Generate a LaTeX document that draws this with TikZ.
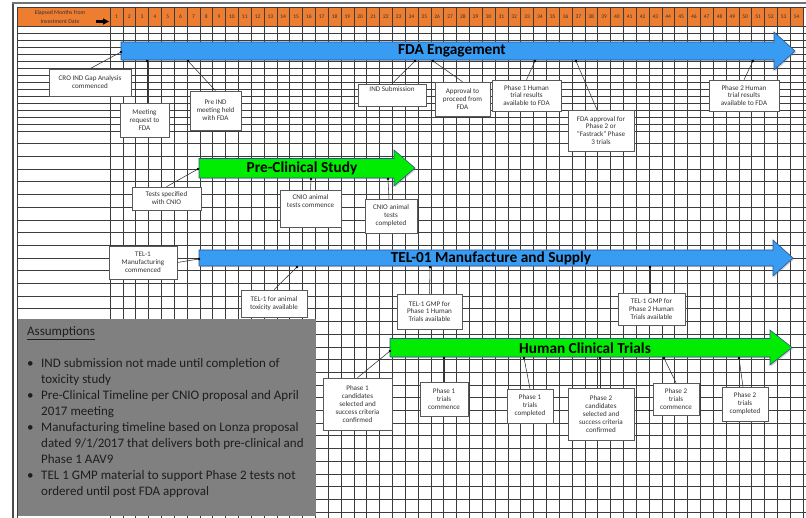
\documentclass[tikz,border=0pt]{standalone}
\usepackage{fontspec}
\setmainfont{Carlito}
\usetikzlibrary{shadows,calc}
\definecolor{hdr}{RGB}{237,125,49}
\definecolor{bluefill}{RGB}{55,156,242}
\definecolor{greenfill}{RGB}{0,236,0}
\definecolor{edgeblue}{RGB}{47,82,143}
\definecolor{gridc}{RGB}{60,60,60}
\definecolor{assumfill}{RGB}{128,128,128}
\definecolor{assumtext}{RGB}{30,30,30}
\tikzset{
  gridl/.style={draw=gridc, line width=0.6pt},
  hnum/.style={font=\fontsize{5.5}{6}\selectfont, text=black!80, inner sep=0pt},
  hlab/.style={font=\fontsize{5.8}{9}\selectfont, text=black!80, align=center, inner sep=0pt},
  barshape/.style={draw=edgeblue, line width=0.6pt, drop shadow={shadow xshift=1.2pt, shadow yshift=-1.2pt, opacity=0.35}},
  barlabel/.style={font=\fontsize{15.3}{17}\selectfont\bfseries, text=black, inner sep=0pt},
  callout/.style={draw=black!65, line width=0.6pt, fill=white, align=center, inner sep=1pt,
    font=\fontsize{7.1}{7.9}\selectfont, text=black!80,
    drop shadow={shadow xshift=1pt, shadow yshift=-1pt, opacity=0.3}},
  conn/.style={draw=black!80, line width=0.55pt},
}
\begin{document}
\begin{tikzpicture}[x=1pt, y=-1pt]
\useasboundingbox (0,0) rectangle (806,518);
\fill[white] (0,0) rectangle (806,518);

% header fill
\fill[hdr] (17,7) rectangle (803,26);

% grid
\foreach \i in {0,...,54} \draw[gridl] ({110+\i*12.833},7) -- ({110+\i*12.833},518);
\draw[gridl] (17,7) -- (17,518);
\draw[gridl] (17,7) -- (806,7);
\foreach \j in {0,...,15} \draw[gridl] (17,{26+7*\j}) -- (806,{26+7*\j});
\foreach \j in {1,...,30} \draw[gridl] (17,{131+12.7*\j}) -- (806,{131+12.7*\j});

% outer frame
\draw[black!70, line width=1.4pt] (13,2) -- (13,518);
\draw[black!55, line width=1.2pt] (12,3) -- (806,3);

% header text
\node[hlab] (hlabel) at (60,17) {Elapsed Months from\\Investment Date};
\foreach \i in {1,...,54} \node[hnum] (h\i) at ({110+(\i-0.5)*12.833},16.5) {\i};
\fill[black] (96,20.3) rectangle (104,22.7);
\fill[black] (103,18.3) -- (109,21.5) -- (103,24.7) -- cycle;

% block arrows
\path[barshape, fill=bluefill] (121,42) -- (774,42) -- (774,32) -- (795,51) -- (774,70) -- (774,60) -- (121,60) -- cycle;
\node[barlabel] (fda) at (452,51) {FDA Engagement};

\path[barshape, fill=greenfill] (199,158.5) -- (394,158.5) -- (394,150) -- (415,168) -- (394,186) -- (394,178) -- (199,178) -- cycle;
\node[barlabel] (pre) at (302,168) {Pre-Clinical Study};

\path[barshape, fill=bluefill] (199,250) -- (773,250) -- (773,240) -- (793,258) -- (773,276) -- (773,266) -- (199,266) -- cycle;
\node[barlabel] (tel) at (491,258) {TEL-01 Manufacture and Supply};

\path[barshape, fill=greenfill] (390,338.5) -- (770,338.5) -- (770,330) -- (792,347.5) -- (770,365) -- (770,357) -- (390,357) -- cycle;
\node[barlabel] (hct) at (585,348) {Human Clinical Trials};

% attachment points
\coordinate (d1) at (121,52);
\coordinate (d2) at (147,61);
\coordinate (d3) at (188,61);
\coordinate (d4) at (415,61);
\coordinate (d5) at (433,61);
\coordinate (d6) at (535,61);
\coordinate (d7) at (576,61);
\coordinate (d8) at (753,61);
\coordinate (d9) at (198,169);
\coordinate (d10) at (311,179);
\coordinate (d11) at (388,179);
\coordinate (d12) at (199,259);
\coordinate (d13) at (297,267);
\coordinate (d14) at (430,267);
\coordinate (d15) at (650,267);
\coordinate (d16) at (390,351);
\coordinate (d17) at (444,358);
\coordinate (d18) at (524,358);
\coordinate (d19) at (600,358);
\coordinate (d20) at (664,358);
\coordinate (d21) at (739,358);

% callout boxes
\node[callout, minimum width=82pt, minimum height=27pt] (cro) at (90,82.5) {CRO IND Gap Analysis\\commenced};
\node[callout, minimum width=49pt, minimum height=34pt] (meet) at (144.5,120) {Meeting\\request to\\FDA};
\node[callout, minimum width=51pt, minimum height=39pt] (preind) at (215.5,110.5) {Pre IND\\meeting held\\with FDA};
\node[callout, minimum width=68pt, minimum height=22pt] (indsub) at (392,95) {IND Submission\\[4pt]};
\node[callout, minimum width=55pt, minimum height=34pt] (approve) at (462.5,99) {Approval to\\proceed from\\FDA};
\node[callout, minimum width=69pt, minimum height=31pt] (p1res) at (526.5,95.5) {Phase 1 Human\\trial results\\available to FDA};
\node[callout, minimum width=66pt, minimum height=41pt] (fdaapp) at (601,130.5) {FDA approval for\\Phase 2 or\\“Fastrack” Phase\\3 trials};
\node[callout, minimum width=70pt, minimum height=31pt] (p2res) at (744,95.5) {Phase 2 Human\\trial results\\available to FDA};

\node[callout, minimum width=69pt, minimum height=23pt] (tests) at (166.5,198.5) {Tests specified\\with CNIO};
\node[callout, minimum width=61pt, minimum height=37pt] (cniostart) at (310.5,208.5) {CNIO animal\\tests commence\\~\\~};
\node[callout, minimum width=52pt, minimum height=34pt] (cnioend) at (391,216) {CNIO animal\\tests\\completed};

\node[callout, minimum width=68pt, minimum height=33pt] (telmfg) at (143,262.5) {TEL-1\\Manufacturing\\commenced};
\node[callout, minimum width=66pt, minimum height=27pt] (telanim) at (274,303.5) {TEL-1 for animal\\toxicity available};
\node[callout, minimum width=65pt, minimum height=35pt] (gmp1) at (429.5,311.5) {TEL-1 GMP for\\Phase 1 Human\\Trials available};
\node[callout, minimum width=67pt, minimum height=32pt] (gmp2) at (651.5,309) {TEL-1 GMP for\\Phase 2 Human\\Trials available};

\node[callout, minimum width=69pt, minimum height=52pt] (p1cand) at (357.5,404) {Phase 1\\candidates\\selected and\\success criteria\\confirmed};
\node[callout, minimum width=48pt, minimum height=34pt] (p1start) at (444,399) {Phase 1\\trials\\commence};
\node[callout, minimum width=46pt, minimum height=34pt] (p1done) at (530,406) {Phase 1\\trials\\completed};
\node[callout, minimum width=66pt, minimum height=52pt] (p2cand) at (601,414) {Phase 2\\candidates\\selected and\\success criteria\\confirmed};
\node[callout, minimum width=46pt, minimum height=32pt] (p2start) at (676,399) {Phase 2\\trials\\commence};
\node[callout, minimum width=46pt, minimum height=34pt] (p2done) at (745,404) {Phase 2\\trials\\completed};

% connectors
\draw[conn] (cro.north) -- (d1);
\draw[conn] (d2 |- meet.north) -- (d2);
\draw[conn] (preind.north) -- (d3);
\draw[conn] (indsub.north) -- (d4);
\draw[conn] (approve.north) -- (d5);
\draw[conn] (p1res.north) -- (d6);
\draw[conn] (fdaapp.north) ++(-4,0) -- (d7);
\draw[conn] (p2res.north) -- (d8);
\draw[conn] (tests.north) -- (d9);
\draw[conn] (cniostart.north) -- (d10);
\draw[conn] (cnioend.north) ++(-2,0) -- (d11);
\draw[conn] (telmfg.east) -- (d12);
\draw[conn] (telanim.north) -- (d13);
\draw[conn] (gmp1.north) -- (d14);
\draw[conn] (gmp2.north) ++(-1.5,0) -- (d15);
\draw[conn] (p1cand.north) -- (d16);
\draw[conn] (p1start.north) -- (d17);
\draw[conn] (p1done.north) -- (d18);
\draw[conn] (p2cand.north) ++(-1,0) -- (d19);
\draw[conn] (p2start.north) -- (d20);
\draw[conn] (p2done.north) ++(-2,0) -- (d21);
\foreach \d in {d1,d2,d3,d4,d5,d6,d7,d8,d9,d10,d11,d12,d13,d14,d15,d16,d17,d18,d19,d20,d21}
  \fill[black] (\d) circle (1.4);

% assumptions
\fill[assumfill] (18,319) rectangle (316,516);
\node[anchor=north west, inner sep=0pt, text=assumtext, font=\fontsize{13}{16}\selectfont] (assump) at (27,324) {%
\begin{tabular}{@{}p{14pt}@{}l@{}}
\multicolumn{2}{@{}l}{\underline{Assumptions}}\\
 & \\
\textbullet & IND submission not made until completion of\\
 & toxicity study\\
\textbullet & Pre-Clinical Timeline per CNIO proposal and April\\
 & 2017 meeting\\
\textbullet & Manufacturing timeline based on Lonza proposal\\
 & dated 9/1/2017 that delivers both pre-clinical and\\
 & Phase 1 AAV9\\
\textbullet & TEL 1 GMP material to support Phase 2 tests not\\
 & ordered until post FDA approval
\end{tabular}};
\end{tikzpicture}
\end{document}
